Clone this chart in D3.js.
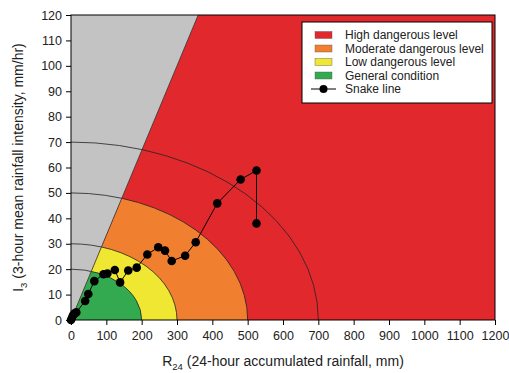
<!DOCTYPE html>
<html>
<head>
<meta charset="utf-8">
<script src="https://cdn.jsdelivr.net/npm/d3@7"></script>
<style>
  body { margin: 0; background: #fff; }
  svg { font-family: "Liberation Sans", Arial, sans-serif; }
</style>
</head>
<body>
<svg width="509" height="373"></svg>
<script>
// snake line (R24, I3)
const snakeR = [0, 3, 6, 10, 15, 40, 49, 66, 92, 103, 124, 139, 162, 186, 216, 247, 266, 285, 323, 353, 414, 480, 525, 525];
const snakeI = [0, 1, 2, 2.5, 3, 7.5, 10.2, 15.3, 18, 18.3, 19.7, 14.8, 19.5, 20.6, 25.8, 28.6, 27.3, 23.2, 25.3, 30.6, 45.9, 55.3, 58.8, 38];

// threshold ellipses (R axis, I axis)
const levelR = [200, 300, 500, 700];
const levelI = [20, 30, 50, 70];
// boundary line I = R / 3
const slopeTop = [360, 120];

const xTicks = d3.range(0, 1201, 100);
const yTicks = d3.range(0, 121, 10);

const legendItems = [
  { label: "High dangerous level", color: "#e1282c" },
  { label: "Moderate dangerous level", color: "#f17f30" },
  { label: "Low dangerous level", color: "#efe731" },
  { label: "General condition", color: "#33aa4f" },
  { label: "Snake line", color: null }
];

const margin = { top: 15, right: 14, bottom: 53, left: 71 };
const svg = d3.select("svg");
const width = 509 - margin.left - margin.right;
const height = 373 - margin.top - margin.bottom;

const x = d3.scaleLinear().domain([0, 1200]).range([0, width]);
const y = d3.scaleLinear().domain([0, 120]).range([height, 0]);

const g = svg.append("g").attr("transform", `translate(${margin.left},${margin.top})`);

// gray background (above the slope)
g.append("rect").attr("width", width).attr("height", height).attr("fill", "#c3c3c3");

// clip to region below slope
const defs = svg.append("defs");
defs.append("clipPath").attr("id", "below")
  .append("path")
  .attr("d", `M${x(0)},${y(0)} L${x(slopeTop[0])},${y(slopeTop[1])} L${x(1200)},${y(120)} L${x(1200)},${y(0)} Z`);

const zones = g.append("g").attr("clip-path", "url(#below)");
zones.append("rect").attr("width", width).attr("height", height).attr("fill", legendItems[0].color);
// orange, yellow, green from outer to inner
[[2, 1], [1, 2], [0, 3]].forEach(([lv, col]) => {
  zones.append("ellipse")
    .attr("cx", x(0)).attr("cy", y(0))
    .attr("rx", x(levelR[lv]) - x(0))
    .attr("ry", y(0) - y(levelI[lv]))
    .attr("fill", legendItems[col].color);
});

// ellipse outlines
levelR.forEach((r, i) => {
  const rx = x(r) - x(0), ry = y(0) - y(levelI[i]);
  g.append("path")
    .attr("d", `M${x(0)},${y(0) - ry} A${rx},${ry} 0 0,1 ${x(0) + rx},${y(0)}`)
    .attr("fill", "none")
    .attr("stroke", "#222")
    .attr("stroke-width", 0.8);
});

// slope line
g.append("line")
  .attr("x1", x(0)).attr("y1", y(0))
  .attr("x2", x(slopeTop[0])).attr("y2", y(slopeTop[1]))
  .attr("stroke", "#333").attr("stroke-width", 0.8);

// snake line
const pts = snakeR.map((r, i) => [r, snakeI[i]]);
g.append("path")
  .datum(pts)
  .attr("d", d3.line().x(d => x(d[0])).y(d => y(d[1])))
  .attr("fill", "none")
  .attr("stroke", "#000")
  .attr("stroke-width", 1);
g.selectAll(".pt").data(pts).join("circle")
  .attr("class", "pt")
  .attr("cx", d => x(d[0])).attr("cy", d => y(d[1]))
  .attr("r", 4.3)
  .attr("fill", "#000");

// frame
g.append("rect").attr("width", width).attr("height", height)
  .attr("fill", "none").attr("stroke", "#000").attr("stroke-width", 1);

// axes
const xAxis = g.append("g").attr("transform", `translate(0,${height})`)
  .call(d3.axisBottom(x).tickValues(xTicks).tickFormat(d3.format("d")).tickSize(5).tickPadding(6));
const yAxis = g.append("g")
  .call(d3.axisLeft(y).tickValues(yTicks).tickFormat(d3.format("d")).tickSize(5).tickPadding(4));
[xAxis, yAxis].forEach(a => {
  a.select(".domain").remove();
  a.selectAll("text").attr("font-size", 12.5).attr("fill", "#222").attr("font-family", "Liberation Sans, Arial, sans-serif");
  a.selectAll("line").attr("stroke", "#000");
});

// axis titles
const xt = svg.append("text")
  .attr("x", margin.left + width / 2).attr("y", 366)
  .attr("text-anchor", "middle").attr("font-size", 14).attr("fill", "#222");
xt.append("tspan").text("R");
xt.append("tspan").attr("font-size", 9.5).attr("dy", 3.5).text("24");
xt.append("tspan").attr("dy", -3.5).text(" (24-hour accumulated rainfall, mm)");

const yt = svg.append("text")
  .attr("transform", `translate(23,${margin.top + height / 2}) rotate(-90)`)
  .attr("text-anchor", "middle").attr("font-size", 14).attr("fill", "#222");
yt.append("tspan").text("I");
yt.append("tspan").attr("font-size", 9.5).attr("dy", 3.5).text("3");
yt.append("tspan").attr("dy", -3.5).text(" (3-hour mean rainfall intensity, mm/hr)");

// legend
const lg = svg.append("g").attr("transform", "translate(302,22)");
lg.append("rect").attr("width", 190).attr("height", 81)
  .attr("fill", "#fff").attr("stroke", "#000").attr("stroke-width", 1);
legendItems.forEach((d, i) => {
  const yy = 13 + i * 13.5;
  if (d.color) {
    lg.append("rect").attr("x", 13).attr("y", yy - 3.5).attr("width", 17).attr("height", 7)
      .attr("fill", d.color).attr("stroke", "#555").attr("stroke-width", 0.4);
  } else {
    lg.append("line").attr("x1", 9).attr("x2", 34).attr("y1", yy).attr("y2", yy)
      .attr("stroke", "#000").attr("stroke-width", 1);
    lg.append("circle").attr("cx", 21.5).attr("cy", yy).attr("r", 4).attr("fill", "#000");
  }
  lg.append("text").attr("x", 43).attr("y", yy + 4.3)
    .attr("font-size", 12).attr("fill", "#222").text(d.label);
});
</script>
</body>
</html>
